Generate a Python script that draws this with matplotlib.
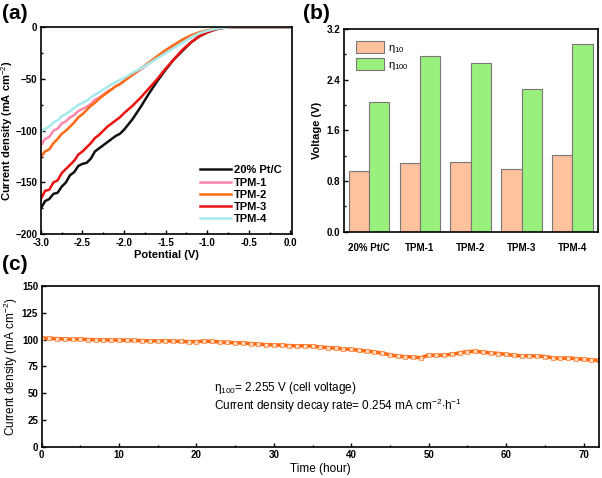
import matplotlib.pyplot as plt
import numpy as np
from matplotlib.ticker import MultipleLocator

plt.rcParams['font.family'] = ['Liberation Sans', 'DejaVu Sans']
plt.rcParams['mathtext.fontset'] = 'custom'
plt.rcParams['mathtext.rm'] = 'Liberation Sans'
plt.rcParams['mathtext.it'] = 'Liberation Sans'

# (a) polarization curves
potential = [-3.0, -2.95, -2.9, -2.85, -2.8, -2.75, -2.7, -2.65, -2.6, -2.55, -2.5,
             -2.45, -2.4, -2.35, -2.3, -2.25, -2.2, -2.15, -2.1, -2.05, -2.0,
             -1.9, -1.8, -1.7, -1.6, -1.5, -1.4, -1.3, -1.2, -1.1, -1.0,
             -0.9, -0.8, -0.7, 0.0]
ptc = [-175, -168, -166, -161, -160, -154, -150, -143, -140, -134, -132,
       -131, -127, -120, -117, -114, -111, -108, -105, -103, -99,
       -89, -77, -64, -52, -41, -31, -23, -15, -9, -5, -2, -0.5, 0, 0]
tpm1 = [-114, -108, -106, -100, -98, -93, -91, -87, -85, -81, -79,
        -77, -74, -70, -68, -65, -62, -60, -57, -55, -52,
        -46, -41, -35, -29, -24, -19, -14, -10, -6, -3.5, -1.5, -0.5, 0, 0]
tpm2 = [-125, -120, -118, -112, -108, -103, -100, -96, -92, -87, -84,
        -80, -76, -73, -69, -66, -63, -60, -57, -55, -52,
        -46, -40, -34, -28, -22, -17, -12, -8, -5, -3, -1.5, -0.5, 0, 0]
tpm3 = [-166, -158, -157, -150, -148, -141, -137, -133, -129, -123, -120,
        -116, -112, -107, -104, -100, -96, -93, -90, -87, -83,
        -76, -68, -59, -50, -40, -31, -22, -15, -9, -5, -2, -0.5, 0, 0]
tpm4 = [-101, -98, -96, -92, -90, -86, -84, -81, -78, -75, -73,
        -71, -68, -65, -63, -60, -58, -55, -53, -51, -49,
        -44, -40, -35, -30, -25, -20, -15, -10, -6, -3.5, -1.5, -0.5, 0, 0]
curve_names = ['20% Pt/C', 'TPM-1', 'TPM-2', 'TPM-3', 'TPM-4']
curve_colors = ['#111111', '#ff85aa', '#ff6a14', '#ee1111', '#a6eaee']

# (b) overpotentials
samples = ['20% Pt/C', 'TPM-1', 'TPM-2', 'TPM-3', 'TPM-4']
eta10 = [0.96, 1.09, 1.11, 0.99, 1.22]
eta100 = [2.05, 2.77, 2.66, 2.25, 2.97]

# (c) stability
hours = list(range(0, 73))
stab = [101.5, 101, 100.8, 100.5, 100.3, 100.5, 100, 99.8, 99.7, 99.6,
        99.5, 99.3, 99.2, 99, 98.8, 98.7, 98.8, 98.5, 98.3, 98,
        98, 98.5, 98.3, 97.8, 97.3, 97, 96.8, 96.2, 95.7, 95.2,
        95, 94.8, 94.3, 94, 94.2, 93.8, 93, 92.5, 92, 91.3,
        90.8, 90, 89.2, 88.5, 87.2, 85.8, 84.5, 84, 83.8, 83,
        85.5, 85.3, 85.5, 86.3, 87.5, 88.8, 89, 88.3, 87.5, 87,
        86.2, 85.3, 84.8, 84.8, 84.6, 84.2, 83, 82.5, 82.8, 82.2,
        81.7, 81, 80.5]

fig = plt.figure(figsize=(6.02, 4.78), dpi=100)
ax1 = fig.add_axes([0.068, 0.510, 0.417, 0.433])
ax2 = fig.add_axes([0.571, 0.515, 0.422, 0.424])
ax3 = fig.add_axes([0.069, 0.065, 0.926, 0.337])

def style_ax(ax):
    for s in ax.spines.values():
        s.set_linewidth(1.2)
    ax.tick_params(which='both', direction='in', labelsize=7, width=1, pad=2.5)
    ax.tick_params(which='major', length=3)
    ax.tick_params(which='minor', length=1.5)
    for lab in ax.get_xticklabels() + ax.get_yticklabels():
        lab.set_fontweight('bold')

# panel a
for y, name, c in zip([ptc, tpm1, tpm2, tpm3, tpm4], curve_names, curve_colors):
    ax1.plot(potential, y, color=c, lw=1.8, label=name)
ax1.set_xlim(-3.0, 0.02)
ax1.set_ylim(-200, 0)
ax1.xaxis.set_major_locator(MultipleLocator(0.5))
ax1.xaxis.set_minor_locator(MultipleLocator(0.25))
ax1.yaxis.set_major_locator(MultipleLocator(50))
ax1.yaxis.set_minor_locator(MultipleLocator(25))
ax1.xaxis.set_major_formatter(plt.FormatStrFormatter('%.1f'))
ax1.set_xlabel('Potential (V)', fontsize=8, fontweight='bold', labelpad=2)
ax1.set_ylabel('Current density (mA cm$^{-2}$)', fontsize=8, fontweight='bold', labelpad=0)
ax1.legend(loc='lower right', frameon=False, prop={'weight': 'bold', 'size': 8},
           handlelength=2.8, handletextpad=0.3, labelspacing=0.2,
           borderaxespad=0.5)
style_ax(ax1)

# panel b
xpos = np.arange(len(samples))
w = 0.4
ax2.bar(xpos - w / 2, eta10, w, color='#ffc29c', edgecolor='#777777', lw=0.8,
        label=r'$\eta_{10}$')
ax2.bar(xpos + w / 2, eta100, w, color='#9af07c', edgecolor='#777777', lw=0.8,
        label=r'$\eta_{100}$')
ax2.set_xlim(-0.5, 4.5)
ax2.set_ylim(0, 3.2)
ax2.set_xticks(xpos)
ax2.set_xticklabels(samples)
ax2.yaxis.set_major_locator(MultipleLocator(0.8))
ax2.yaxis.set_minor_locator(MultipleLocator(0.4))
ax2.yaxis.set_major_formatter(plt.FormatStrFormatter('%.1f'))
ax2.set_ylabel('Voltage (V)', fontsize=8, fontweight='bold', labelpad=3)
ax2.legend(loc='upper left', frameon=False, fontsize=8, handlelength=2.5,
           handleheight=1.3, handletextpad=0.4, labelspacing=0.25,
           borderaxespad=0.7)
style_ax(ax2)
ax2.tick_params(axis='x', length=0, pad=8)

# panel c
ax3.plot(hours, stab, color='#ff6a14', lw=2.6)
ax3.plot(hours, stab, ls='none', marker='s', markersize=2.4,
         mfc='#ffd8c0', mec='#ff7a28', mew=0.5)
ax3.set_xlim(0, 72)
ax3.set_ylim(0, 150)
ax3.xaxis.set_major_locator(MultipleLocator(10))
ax3.xaxis.set_minor_locator(MultipleLocator(5))
ax3.yaxis.set_major_locator(MultipleLocator(25))
ax3.set_xlabel('Time (hour)', fontsize=8.5, labelpad=2)
ax3.set_ylabel('Current density (mA cm$^{-2}$)', fontsize=8.5, labelpad=1)
ax3.text(22.3, 55, r'$\eta_{100}$= 2.255 V (cell voltage)', fontsize=8.5, va='center')
ax3.text(22.3, 38, r'Current density decay rate= 0.254 mA cm$^{-2}$$\cdot$h$^{-1}$',
         fontsize=8.5, va='center')
style_ax(ax3)

fig.text(0.003, 0.972, '(a)', fontsize=15, fontweight='bold', va='center')
fig.text(0.503, 0.972, '(b)', fontsize=15, fontweight='bold', va='center')
fig.text(0.003, 0.446, '(c)', fontsize=15, fontweight='bold', va='center')

fig.savefig('out.png', dpi=100)
